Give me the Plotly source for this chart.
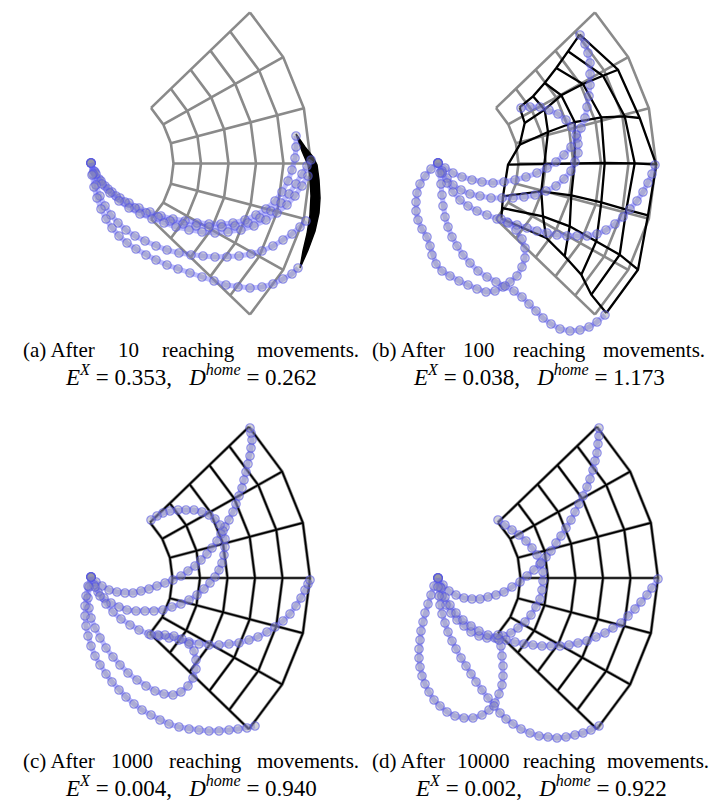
import math
import plotly.graph_objects as go

# ---------------- data (reference pixel frame of each panel) ----------------
GRID_ANGLES_DEG = [44, 29.3, 14.7, 0, -14.7, -29.3, -44]
GRID_RADII = [80, 107.5, 135, 162.5, 190, 217.5]
GRID_CENTRE = {"a": (85.5, 155.5), "b": (430.5, 155.5), "c": (84.5, 570), "d": (432.5, 570)}

# panel (a): collapsed learned grid outline
A_BLACK_X = [288, 297, 305, 309, 311, 312, 311, 307, 300, 292, 295, 299, 302, 303, 302, 300, 294, 288]
A_BLACK_Y = [126, 139, 149, 157, 172, 190, 205, 223, 242, 260, 243, 226, 207, 188, 168, 157, 143, 126]

# panel (b): learned grid nodes, rays (top -> bottom) x radii (inner -> outer)
B_BLACK_X = [
    [511.7, 525.0, 536.7, 548.3, 560.0, 571.7],
    [516.7, 536.7, 553.3, 575.0, 595.0, 610.0],
    [511.7, 540.0, 566.7, 593.3, 616.7, 631.7],
    [500.0, 536.7, 566.7, 596.7, 626.7, 648.3],
    [495.0, 533.3, 563.3, 593.3, 618.3, 640.0],
    [494.0, 535.0, 561.7, 588.3, 611.7, 630.0],
    [493.3, 538.3, 556.7, 573.3, 583.3, 598.3],
]
B_BLACK_Y = [
    [99.3, 88.3, 75.0, 60.0, 43.3, 26.7],
    [115.0, 101.7, 87.3, 76.0, 67.7, 61.7],
    [136.7, 124.0, 114.0, 109.3, 108.3, 110.0],
    [156.7, 156.0, 155.0, 155.0, 155.3, 156.7],
    [188.3, 183.3, 187.3, 194.3, 201.7, 207.3],
    [200.0, 208.3, 218.3, 233.3, 246.7, 261.7],
    [210.7, 230.0, 248.3, 266.7, 286.7, 305.0],
]

TRAJ = {
    "a": [
        [(83,155),(86,163),(91,171),(97,178),(104,184),(112,190),(121,195),(131,200),(142,204),(153,208),(165,211),(177,213),(189,215),(201,216),(213,216),(225,215),(237,212),(248,207),(258,201),(267,193),(274,184),(280,173),(284,162),(287,150),(288,139),(288,128)],
        [(83,155),(87,164),(93,173),(100,181),(108,188),(117,194),(127,200),(138,205),(150,209),(162,213),(175,216),(188,218),(201,219),(214,219),(227,218),(240,215),(252,210),(263,203),(273,195),(281,186),(288,176),(294,166),(299,158),(303,152)],
        [(83,155),(88,166),(94,176),(102,185),(111,193),(121,200),(132,206),(144,211),(156,215),(168,219),(181,222),(194,224),(207,225),(220,224),(233,222),(246,218),(258,212),(269,205),(279,197),(287,188),(294,178),(300,168)],
        [(83,155),(85,166),(88,177),(92,188),(97,198),(103,207),(110,215),(118,222),(127,228),(137,233),(148,238),(159,242),(171,245),(183,247),(195,248),(207,249),(219,249),(231,248),(243,246),(254,243),(265,238),(275,232),(284,226),(292,219),(298,213)],
        [(83,155),(84,167),(86,179),(89,190),(93,201),(98,211),(104,220),(111,228),(119,235),(128,241),(138,247),(148,252),(159,257),(170,261),(182,265),(194,269),(206,273),(218,277),(230,279),(242,280),(254,279),(265,276),(275,271),(284,266),(290,260)],
    ],
    "b": [
        [(430,155),(437,160),(445,165),(454,169),(464,172),(474,174),(485,175),(496,174),(507,172),(518,169),(529,165),(539,160),(548,154),(556,147),(563,139),(569,130),(573,120),(577,110),(579,99),(581,88),(582,77),(582,66),(582,55),(580,45),(577,36),(572,27)],
        [(430,155),(434,163),(439,170),(445,177),(453,182),(462,186),(472,188),(483,190),(494,190),(505,190),(516,189),(527,187),(538,183),(548,178),(556,171),(563,163),(567,154),(570,145),(570,136),(568,127),(564,119),(558,112),(550,106),(541,102),(532,99),(522,99),(513,100)],
        [(430,155),(434,165),(439,175),(445,184),(452,192),(460,198),(469,203),(479,207),(489,211),(499,214),(509,217),(519,220),(529,223),(539,225),(549,227),(559,228),(569,228),(579,228),(589,226),(598,222),(607,216),(615,209),(622,201),(629,193),(635,184),(640,175),(644,166),(647,157)],
        [(430,155),(423,161),(417,168),(412,176),(409,185),(408,194),(408,203),(410,212),(414,221),(419,229),(422,238),(424,247),(428,256),(434,263),(442,268),(451,273),(460,277),(469,281),(478,284),(487,283),(495,279),(502,274),(509,268),(514,259),(517,250),(517,240),(514,231),(508,222),(500,215),(493,211)],
        [(430,155),(432,165),(433,176),(434,187),(435,198),(437,209),(440,219),(444,229),(449,238),(455,247),(462,255),(470,263),(479,269),(488,274),(497,278),(506,283),(514,289),(521,296),(528,303),(535,310),(543,316),(552,321),(562,323),(572,322),(581,319),(589,314),(597,307)],
    ],
    "c": [
        [(83,569),(88,574),(94,578),(101,582),(109,584),(117,585),(125,585),(133,583),(141,581),(149,578),(157,575),(165,572),(173,568),(180,563),(187,558),(193,552),(199,546),(204,540),(209,533),(213,526),(217,519),(221,512),(225,504),(228,496),(231,488),(234,480),(236,472),(238,464),(240,456),(242,448),(243,440),(244,432),(243,425),(242,420)],
        [(83,569),(86,577),(90,584),(96,590),(103,595),(111,599),(119,602),(128,603),(137,603),(146,603),(155,602),(164,599),(173,596),(181,592),(189,587),(196,581),(202,575),(207,569),(211,562),(214,555),(216,547),(217,539),(217,531),(215,523),(212,517),(207,511),(201,507),(194,504),(186,502),(178,502),(170,502),(162,503),(155,505),(149,508),(143,512)],
        [(83,569),(87,579),(92,588),(98,596),(105,604),(113,611),(122,617),(131,622),(141,626),(151,628),(161,630),(171,632),(181,634),(191,636),(201,637),(211,637),(221,636),(231,635),(241,632),(250,629),(259,624),(267,619),(275,613),(282,606),(288,598),(293,590),(297,582),(300,576),(302,572)],
        [(83,569),(81,579),(80,590),(81,600),(83,610),(87,620),(92,630),(98,640),(105,649),(112,657),(120,665),(129,672),(138,678),(147,683),(156,686),(165,687),(173,684),(180,678),(185,670),(188,661),(188,652),(186,643),(181,636),(174,631),(166,628),(157,627),(150,627),(143,627)],
        [(83,569),(80,578),(78,588),(77,598),(77,608),(78,618),(80,628),(83,638),(87,648),(92,657),(98,666),(104,674),(111,682),(118,689),(126,696),(134,702),(143,707),(152,712),(161,716),(171,719),(181,721),(191,722),(201,723),(211,723),(221,722),(230,721),(239,720),(247,718)],
    ],
    "d": [
        [(430,570),(435,577),(441,583),(448,587),(456,590),(464,591),(472,591),(480,589),(488,587),(496,584),(504,579),(512,574),(519,568),(526,562),(532,556),(538,549),(543,543),(548,535),(553,528),(558,520),(563,512),(567,504),(571,496),(575,488),(579,479),(582,471),(585,462),(587,453),(589,445),(590,436),(591,428),(591,420)],
        [(430,570),(432,579),(434,588),(438,597),(443,605),(449,612),(456,618),(463,624),(471,628),(479,630),(487,630),(495,628),(503,625),(510,620),(517,614),(523,607),(528,599),(532,591),(534,582),(535,573),(535,564),(533,555),(529,547),(524,540),(518,533),(511,527),(504,522),(497,517),(490,512)],
        [(430,570),(433,580),(437,589),(442,597),(448,605),(455,612),(463,618),(471,623),(480,627),(489,630),(498,632),(507,634),(516,636),(525,637),(534,638),(543,638),(552,638),(561,637),(570,635),(579,633),(588,629),(597,625),(605,620),(613,615),(620,608),(627,601),(633,594),(639,587),(644,580),(650,571)],
        [(430,570),(426,578),(423,587),(420,596),(417,605),(415,614),(413,623),(412,632),(411,641),(411,650),(412,659),(414,668),(417,676),(421,684),(426,692),(432,698),(439,704),(447,708),(456,710),(465,710),(474,707),(481,702),(487,695),(491,686),(494,677),(495,668),(495,658),(494,648),(493,638),(491,632),(490,627)],
        [(430,570),(430,579),(431,588),(432,597),(434,606),(437,615),(440,624),(444,633),(448,641),(453,650),(458,658),(463,666),(468,674),(474,682),(480,690),(486,698),(492,705),(498,711),(505,716),(513,721),(522,725),(531,728),(540,729),(549,730),(558,729),(567,727),(575,725),(583,722),(591,718)],
    ],
}

CAPTION_L1 = {
    "a": ["(a) After", "10", "reaching", "movements."],
    "b": ["(b) After", "100", "reaching", "movements."],
    "c": ["(c) After", "1000", "reaching", "movements."],
    "d": ["(d) After", "10000", "reaching", "movements."],
}
E_X = {"a": "0.353", "b": "0.038", "c": "0.004", "d": "0.002"}
D_HOME = {"a": "0.262", "b": "1.173", "c": "0.940", "d": "0.922"}

# ---------------- layout ----------------
W, H = 725, 803
PANEL_RECT = {"a": (0, 362, 0, 330), "b": (362, 725, 0, 330),
              "c": (0, 362, 385, 750), "d": (362, 725, 385, 750)}
CAP_COLS = {"a": (13, 353, 342, 367), "b": (362, 699, 342, 367),
            "c": (13, 353, 753, 778), "d": (362, 703, 753, 778)}
FONT = "Liberation Serif"
FS = 21
NB = "\u00a0"


def polar_nodes(centre):
    cx, cy = centre
    xs, ys = [], []
    for a in GRID_ANGLES_DEG:
        t = math.radians(a)
        xs.append([cx + r * math.cos(t) for r in GRID_RADII])
        ys.append([cy - r * math.sin(t) for r in GRID_RADII])
    return xs, ys


def grid_lines(xs, ys):
    lx, ly = [], []
    nr, nk = len(xs), len(xs[0])
    for j in range(nr):
        lx += list(xs[j]) + [None]
        ly += list(ys[j]) + [None]
    for k in range(nk):
        lx += [xs[j][k] for j in range(nr)] + [None]
        ly += [ys[j][k] for j in range(nr)] + [None]
    return lx, ly


fig = go.Figure()
names = ["a", "b", "c", "d"]
for i, p in enumerate(names):
    sfx = "" if i == 0 else str(i + 1)
    xa, ya = "x" + sfx, "y" + sfx
    x0, x1, y0, y1 = PANEL_RECT[p]
    fig.layout["xaxis" + sfx] = dict(domain=[x0 / W, x1 / W], range=[x0, x1], visible=False,
                                    anchor=ya, fixedrange=True)
    fig.layout["yaxis" + sfx] = dict(domain=[1 - y1 / H, 1 - y0 / H], range=[y1, y0], visible=False,
                                    anchor=xa, fixedrange=True)
    gx, gy = polar_nodes(GRID_CENTRE[p])
    lx, ly = grid_lines(gx, gy)
    grey_w = 2.6 if p in ("a", "b") else 3.2
    fig.add_trace(go.Scatter(x=lx, y=ly, mode="lines", line=dict(color="#8a8a8a", width=grey_w),
                             xaxis=xa, yaxis=ya, hoverinfo="skip", showlegend=False))
    if p == "a":
        fig.add_trace(go.Scatter(x=A_BLACK_X, y=A_BLACK_Y, mode="lines", fill="toself",
                                 fillcolor="black", line=dict(color="black", width=1.5),
                                 xaxis=xa, yaxis=ya, hoverinfo="skip", showlegend=False))
    elif p == "b":
        bx, by = grid_lines(B_BLACK_X, B_BLACK_Y)
        fig.add_trace(go.Scatter(x=bx, y=by, mode="lines", line=dict(color="black", width=2.3),
                                 xaxis=xa, yaxis=ya, hoverinfo="skip", showlegend=False))
    else:
        fig.add_trace(go.Scatter(x=lx, y=ly, mode="lines", line=dict(color="black", width=1.7),
                                 xaxis=xa, yaxis=ya, hoverinfo="skip", showlegend=False))
    for tr in TRAJ[p]:
        fig.add_trace(go.Scatter(
            x=[q[0] for q in tr], y=[q[1] for q in tr], mode="lines+markers",
            line=dict(color="rgba(100,100,245,0.42)", width=5),
            marker=dict(size=8.5, color="rgba(145,145,165,0.42)",
                        line=dict(color="rgba(80,80,230,0.6)", width=1.1)),
            xaxis=xa, yaxis=ya, hoverinfo="skip", showlegend=False))

# Times-like advance widths (per 1000 em)
CW = {"(": 333, ")": 333, " ": 250, "a": 444, "b": 500, "c": 444, "d": 500, "A": 722, "f": 333,
      "t": 278, "e": 444, "r": 333, "h": 500, "i": 278, "n": 500, "g": 500, "m": 778, "o": 500,
      "v": 500, "s": 389, ".": 250}


def tw(s):
    return sum(CW.get(ch, 500) for ch in s) * FS / 1000.0


ann = []
for p in names:
    left, right, yl1, yl2 = CAP_COLS[p]
    words = CAPTION_L1[p]
    widths = [tw(w) for w in words]
    gap = (right - left - sum(widths)) / (len(words) - 1)
    x = left
    for n, (w, wd) in enumerate(zip(words, widths)):
        if n == 0:
            xp, anc = left, "left"
        elif n == len(words) - 1:
            xp, anc = right, "right"
        else:
            xp, anc = x + wd / 2, "center"
        ann.append(dict(text=w, x=xp / W, y=1 - yl1 / H, xref="paper", yref="paper",
                        xanchor=anc, yanchor="middle", showarrow=False,
                        font=dict(family=FONT, size=FS, color="black")))
        x += wd + gap
    line2 = ("<i>E</i><sup><i>X</i></sup>" + NB + "=" + NB + E_X[p] + "," + NB * 3
             + "<i>D</i><sup><i>home</i></sup>" + NB + "=" + NB + D_HOME[p])
    ann.append(dict(text=line2, x=((left + right) / 2) / W, y=1 - yl2 / H, xref="paper", yref="paper",
                    xanchor="center", yanchor="middle", showarrow=False,
                    font=dict(family=FONT, size=FS + 2, color="black")))

fig.update_layout(width=W, height=H, margin=dict(l=0, r=0, t=0, b=0),
                  paper_bgcolor="white", plot_bgcolor="white", annotations=ann)
fig.write_html("out.html")
